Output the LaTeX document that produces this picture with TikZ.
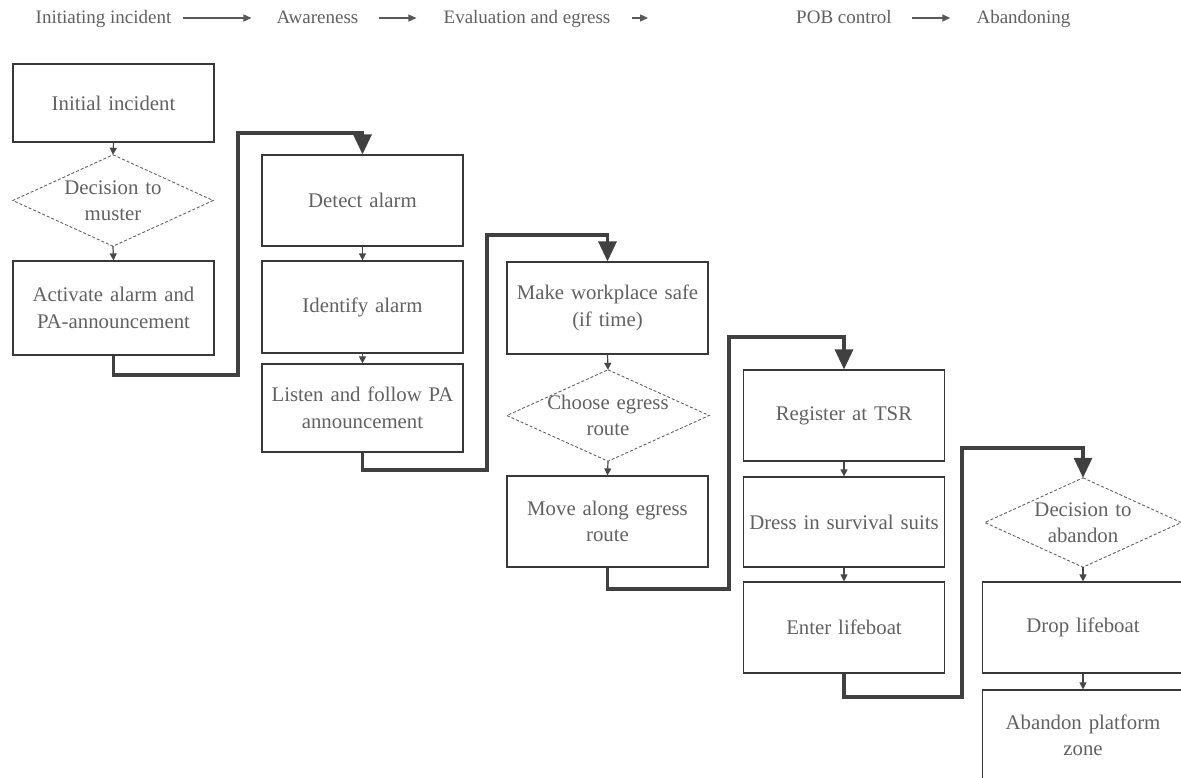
\documentclass[tikz,border=0pt]{standalone}
\usepackage{fontspec}
\setmainfont{Liberation Serif}
\usetikzlibrary{arrows.meta}
\begin{document}
\begin{tikzpicture}[x=1pt,y=-1pt,
 txt/.style={text=black!62},
 boxfont/.style={font=\fontsize{20.8}{26.5}\selectfont},
 box/.style={draw=black!78, line width=1.2pt, minimum width=201pt, text width=193pt, align=center, inner sep=2pt, txt, boxfont},
 dia/.style={minimum width=200pt, text width=150pt, align=center, inner sep=0pt, txt, boxfont},
 dshape/.style={draw=black!62, line width=0.9pt, dash pattern=on 3pt off 2pt},
 flow/.style={draw=black!72, line width=1.2pt, -{Triangle[length=7pt,width=7pt]}},
 link/.style={draw=black!75, line width=3.2pt, line join=miter, -{Triangle[length=20pt,width=18pt]}},
 head/.style={txt, inner sep=0pt, text height=14pt, text depth=4pt, font=\fontsize{19}{22}\selectfont},
 harrow/.style={draw=black!65, line width=1.3pt, -{Triangle[length=8pt,width=7pt]}}
]
\useasboundingbox (0,0) rectangle (1181,777);
\fill[white] (0,0) rectangle (1181,777);

% header
\node[head] (h1) at (103.5,18) {Initiating incident};
\node[head] (h2) at (317.5,18) {Awareness};
\node[head] (h3) at (527,18) {Evaluation and egress};
\node[head] (h4) at (844,18) {POB control};
\node[head] (h5) at (1023.5,18) {Abandoning};
\draw[harrow, shorten <=11pt, shorten >=25pt] (h1.east) -- (h2.west);
\draw[harrow, shorten <=20pt, shorten >=27pt] (h2.east) -- (h3.west);
\draw[harrow, shorten <=21pt, shorten >=148pt] (h3.east) -- (h4.west);
\draw[harrow, shorten <=20pt, shorten >=26pt] (h4.east) -- (h5.west);

% column 1
\node[box, minimum height=78pt] (ini) at (113.5,103) {Initial incident};
\node[dia, minimum height=91pt] (d1) at (113,200.5) {Decision to\\muster};
\draw[dshape] (d1.north) -- (d1.east) -- (d1.south) -- (d1.west) -- cycle;
\node[box, minimum height=94pt] (act) at (113.5,308) {Activate alarm and\\PA-announcement};

% column 2
\node[box, minimum height=91pt] (det) at (362.5,200.5) {Detect alarm};
\node[box, minimum height=92pt] (idf) at (362.5,307) {Identify alarm};
\node[box, minimum height=88pt] (lis) at (362.5,408) {Listen and follow PA\\announcement};

% column 3
\node[box, minimum height=92pt] (mak) at (607.5,308) {Make workplace safe\\(if time)};
\node[dia, minimum height=91pt, minimum width=202pt] (d3) at (608,415.5) {Choose egress\\route};
\draw[dshape] (d3.north) -- (d3.east) -- (d3.south) -- (d3.west) -- cycle;
\node[box, minimum height=91pt] (mov) at (607.5,521.5) {Move along egress\\route};

% column 4
\node[box, minimum height=91pt] (reg) at (844,415.5) {Register at TSR};
\node[box, minimum height=90pt] (dre) at (844,522) {Dress in survival suits};
\node[box, minimum height=91pt] (ent) at (844,627.5) {Enter lifeboat};

% column 5
\node[dia, minimum height=89pt, minimum width=196pt] (d5) at (1083,522.5) {Decision to\\abandon};
\draw[dshape] (d5.north) -- (d5.east) -- (d5.south) -- (d5.west) -- cycle;
\node[box, minimum height=91pt] (dro) at (1083,627.5) {Drop lifeboat};
\node[box, minimum height=91pt] (aba) at (1083,735.5) {Abandon platform\\zone};

% flows within columns
\draw[flow] (ini.south) -- (d1.north);
\draw[flow] (d1.south) -- (act.north);
\draw[flow] (det.south) -- (idf.north);
\draw[flow] (idf.south) -- (lis.north);
\draw[flow] (mak.south) -- (d3.north);
\draw[flow] (d3.south) -- (mov.north);
\draw[flow] (reg.south) -- (dre.north);
\draw[flow] (dre.south) -- (ent.north);
\draw[flow] (d5.south) -- (dro.north);
\draw[flow] (dro.south) -- (aba.north);

% links between columns
\coordinate (k1a) at (238,375); \coordinate (k1b) at (238,133);
\coordinate (k2a) at (487,470); \coordinate (k2b) at (487,235);
\coordinate (k3a) at (729,589); \coordinate (k3b) at (729,337);
\coordinate (k4a) at (962,697); \coordinate (k4b) at (962,448);
\draw[link] (act.south) |- (k1a) -- (k1b) -| (det.north);
\draw[link] (lis.south) |- (k2a) -- (k2b) -| (mak.north);
\draw[link] (mov.south) |- (k3a) -- (k3b) -| (reg.north);
\draw[link] (ent.south) |- (k4a) -- (k4b) -| (d5.north);
\end{tikzpicture}
\end{document}
